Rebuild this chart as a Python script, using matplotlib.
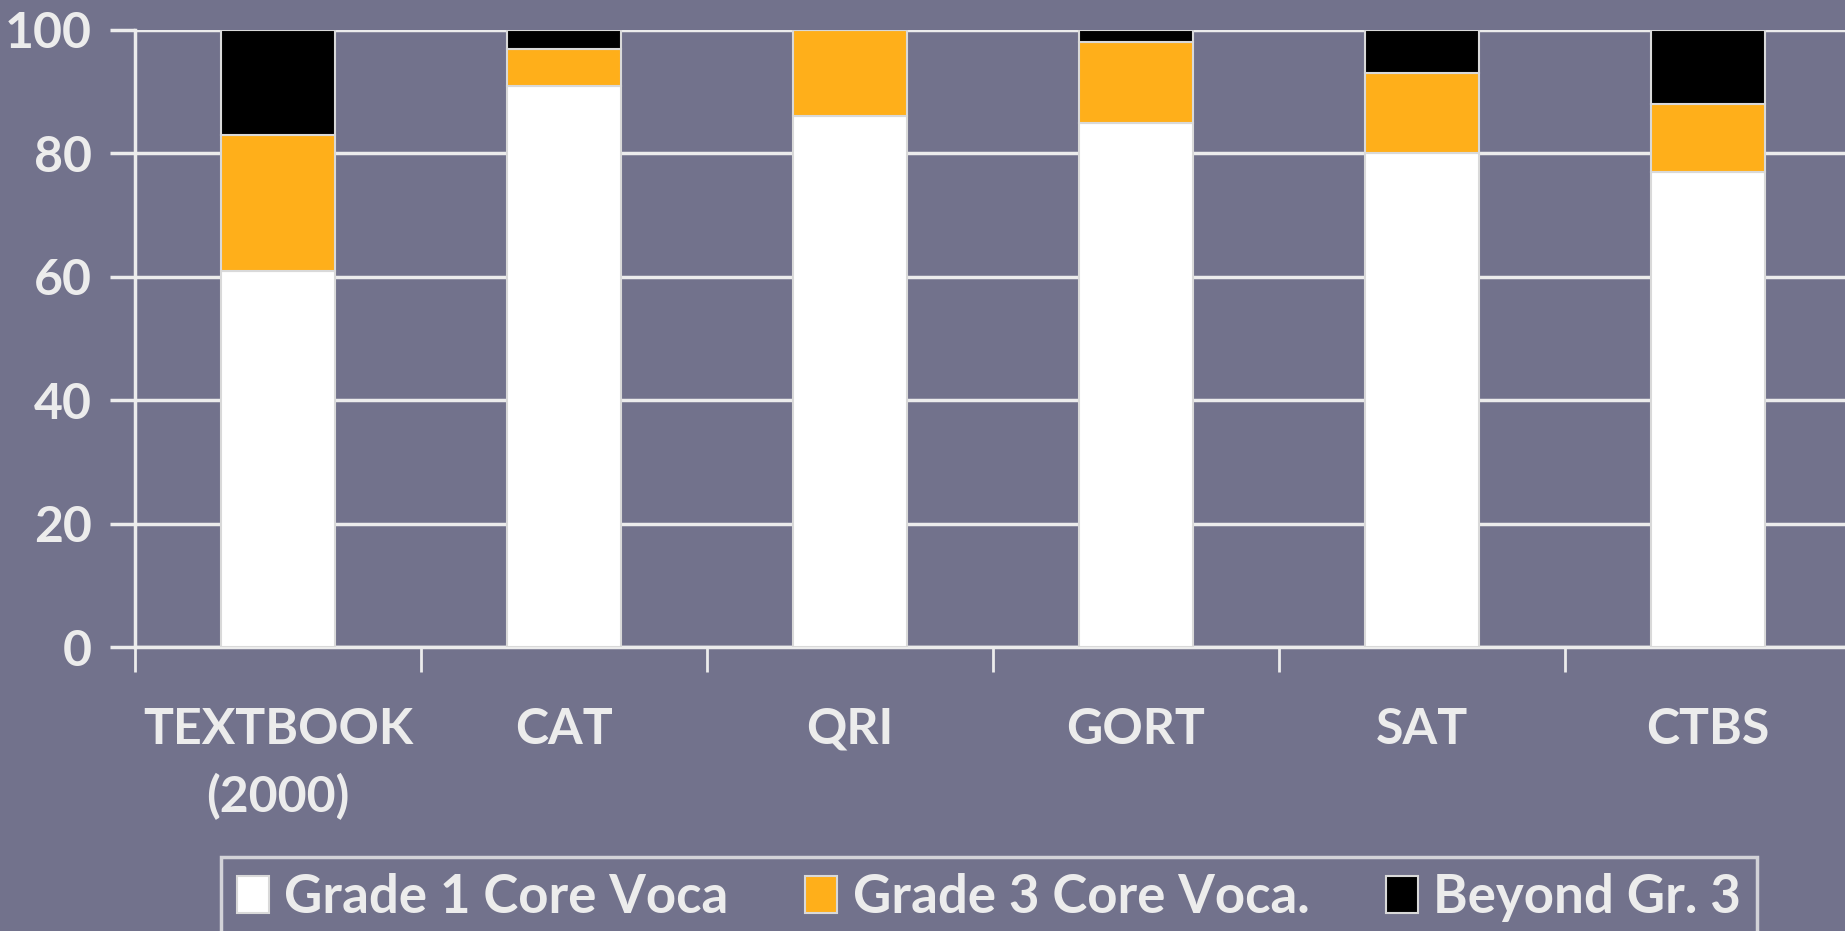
import numpy as np
from matplotlib import pyplot as plt
from matplotlib.ticker import FixedLocator, NullFormatter

categories = ["TEXTBOOK\n(2000)", "CAT", "QRI", "GORT", "SAT", "CTBS"]
grade1 = [61, 91, 86, 85, 80, 77]
grade3 = [22, 6, 14, 13, 13, 11]
beyond = [17, 3, 0, 2, 7, 12]
series_names = ["Grade 1 Core Voca", "Grade 3 Core Voca.", "Beyond Gr. 3"]

bg = "#72728c"
fg = "#ececec"
colors = ["#ffffff", "#ffaf1a", "#000000"]

plt.rcParams['font.family'] = ['Lato', 'DejaVu Sans']
plt.rcParams['font.weight'] = 'bold'

fig = plt.figure(figsize=(18.45, 9.31), dpi=100)
fig.patch.set_facecolor(bg)
ax = fig.add_axes([135/1845, 1-647/931, 1-135/1845, (647-30)/931])
ax.set_facecolor(bg)

x = np.arange(len(categories))
bottom = np.zeros(len(categories))
handles = []
for vals, col, name in zip([grade1, grade3, beyond], colors, series_names):
    b = ax.bar(x, vals, 0.4, bottom=bottom, color=col, edgecolor="#d9d9d9",
               linewidth=1.5, label=name, zorder=3)
    handles.append(b)
    bottom += np.array(vals)

ax.set_xlim(-0.5, 5.48)
ax.set_ylim(0, 100)
ax.set_yticks([0, 20, 40, 60, 80, 100])
ax.yaxis.grid(True, color=fg, linewidth=2.5, zorder=0)
ax.set_axisbelow(True)

ax.set_xticks(x)
ax.set_xticklabels(categories, fontsize=36, color=fg, fontweight='bold',
                   linespacing=1.55, va='top')
ax.tick_params(axis='x', length=0, pad=43)
ax.xaxis.set_minor_locator(FixedLocator(np.arange(-0.5, 6, 1.0)))
ax.xaxis.set_minor_formatter(NullFormatter())
ax.tick_params(axis='x', which='minor', length=18, width=2, color=fg)
ax.tick_params(axis='y', length=18, width=2.5, color=fg, labelsize=36,
               labelcolor=fg, pad=13)
for lab in ax.get_yticklabels():
    lab.set_fontweight('bold')

for side in ['top', 'right']:
    ax.spines[side].set_visible(False)
ax.spines['left'].set_color(fg)
ax.spines['left'].set_linewidth(2.5)
ax.spines['bottom'].set_color(fg)
ax.spines['bottom'].set_linewidth(2.5)

leg = fig.legend(handles=handles, loc='upper left', ncol=3,
                 bbox_to_anchor=(221/1845, 1-857/931), fontsize=38,
                 frameon=True, fancybox=False, handlelength=0.6,
                 handleheight=0.7, handletextpad=0.3, columnspacing=1.45,
                 borderpad=0.3, borderaxespad=0)
leg.get_frame().set_facecolor(bg)
leg.get_frame().set_edgecolor(fg)
leg.get_frame().set_linewidth(2.5)
for t in leg.get_texts():
    t.set_color(fg)
    t.set_fontweight('bold')

fig.savefig("out.png", dpi=100, facecolor=bg)
